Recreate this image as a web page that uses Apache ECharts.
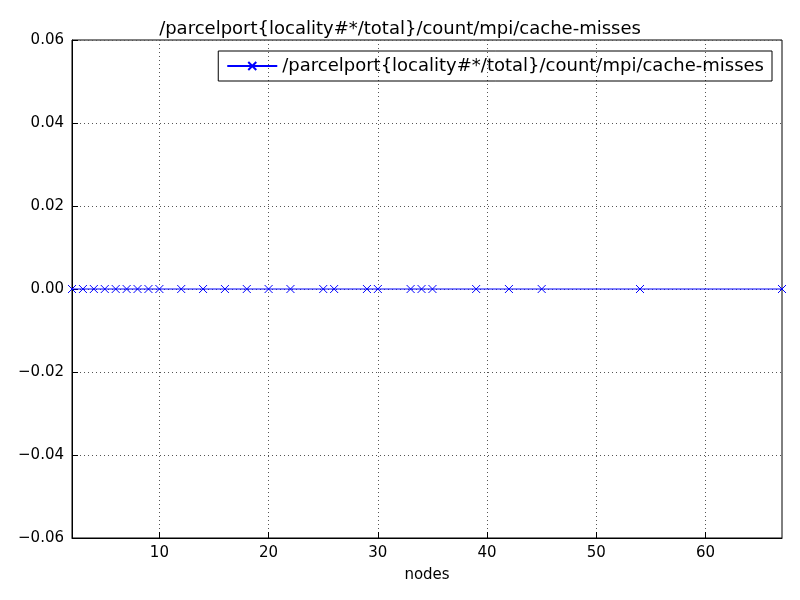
<!DOCTYPE html>
<html>
<head>
<meta charset="utf-8">
<script src="https://cdn.jsdelivr.net/npm/echarts@6/dist/echarts.min.js"></script>
<style>
	html, body { margin: 0; padding: 0; background: #fff; }
	#chart { width: 800px; height: 600px; }
</style>
</head>
<body>
<div id="chart"></div>
<script type="text/javascript">
	// 数据
	var seriesName = '/parcelport{locality#*/total}/count/mpi/cache-misses';
	var nodes = [2, 3, 4, 5, 6, 7, 8, 9, 10, 12, 14, 16, 18, 20, 22, 25, 26, 29, 30, 33, 34, 35, 39, 42, 45, 54, 67];
	var misses = [0, 0, 0, 0, 0, 0, 0, 0, 0, 0, 0, 0, 0, 0, 0, 0, 0, 0, 0, 0, 0, 0, 0, 0, 0, 0, 0];
	var xTicks = [10, 20, 30, 40, 50, 60];

	var points = nodes.map(function (n, i) { return [n, misses[i]]; });
	var font = 'DejaVu Sans';
	var grid = { type: [1, 3], color: '#555', width: 1 };

	var chart = echarts.init(document.getElementById('chart'));
	chart.setOption({
		animation: false,
		title: {
			text: seriesName, left: 'center', top: 15,
			textStyle: { fontFamily: font, fontSize: 18, fontWeight: 'normal', color: '#000' }
		},
		legend: {
			data: [seriesName],
			right: 28, top: 51, orient: 'vertical',
			itemWidth: 50, itemHeight: 10,
			borderColor: '#000', borderWidth: 1, borderRadius: 0, padding: [6, 8],
			textStyle: { fontFamily: font, fontSize: 18, color: '#000' }
		},
		grid: { left: 72, right: 18, top: 40, bottom: 62, show: true, borderColor: '#000', borderWidth: 1 },
		xAxis: {
			type: 'value', min: 2, max: 67,
			name: 'nodes', nameLocation: 'middle', nameGap: 30,
			nameTextStyle: { fontFamily: font, fontSize: 15, color: '#000' },
			axisLine: { onZero: false, lineStyle: { color: '#000' } },
			axisTick: { inside: true, length: 6, customValues: xTicks, lineStyle: { color: '#000' } },
			axisLabel: { customValues: xTicks, fontFamily: font, fontSize: 15, color: '#000', margin: 8 },
			splitLine: { show: true, lineStyle: grid },
			interval: 10
		},
		yAxis: {
			type: 'value', min: -0.06, max: 0.06, interval: 0.02,
			axisLine: { show: true, lineStyle: { color: '#000' } },
			axisTick: { show: true, inside: true, length: 6, lineStyle: { color: '#000' } },
			axisLabel: {
				fontFamily: font, fontSize: 15, color: '#000', margin: 8,
				formatter: function (v) { var s = Math.abs(v).toFixed(2); return v < -1e-9 ? '\u2212' + s : s; }
			},
			splitLine: { show: true, lineStyle: grid }
		},
		series: [{
			name: seriesName, type: 'line', data: points,
			color: '#0000ff',
			symbol: 'path://M0,0L10,10M10,0L0,10', symbolSize: 8,
			itemStyle: { color: 'rgba(0,0,0,0)', borderColor: '#0000ff', borderWidth: 1 },
			lineStyle: { color: '#0000ff', width: 1 },
			clip: true
		}]
	});
</script>
</body>
</html>
